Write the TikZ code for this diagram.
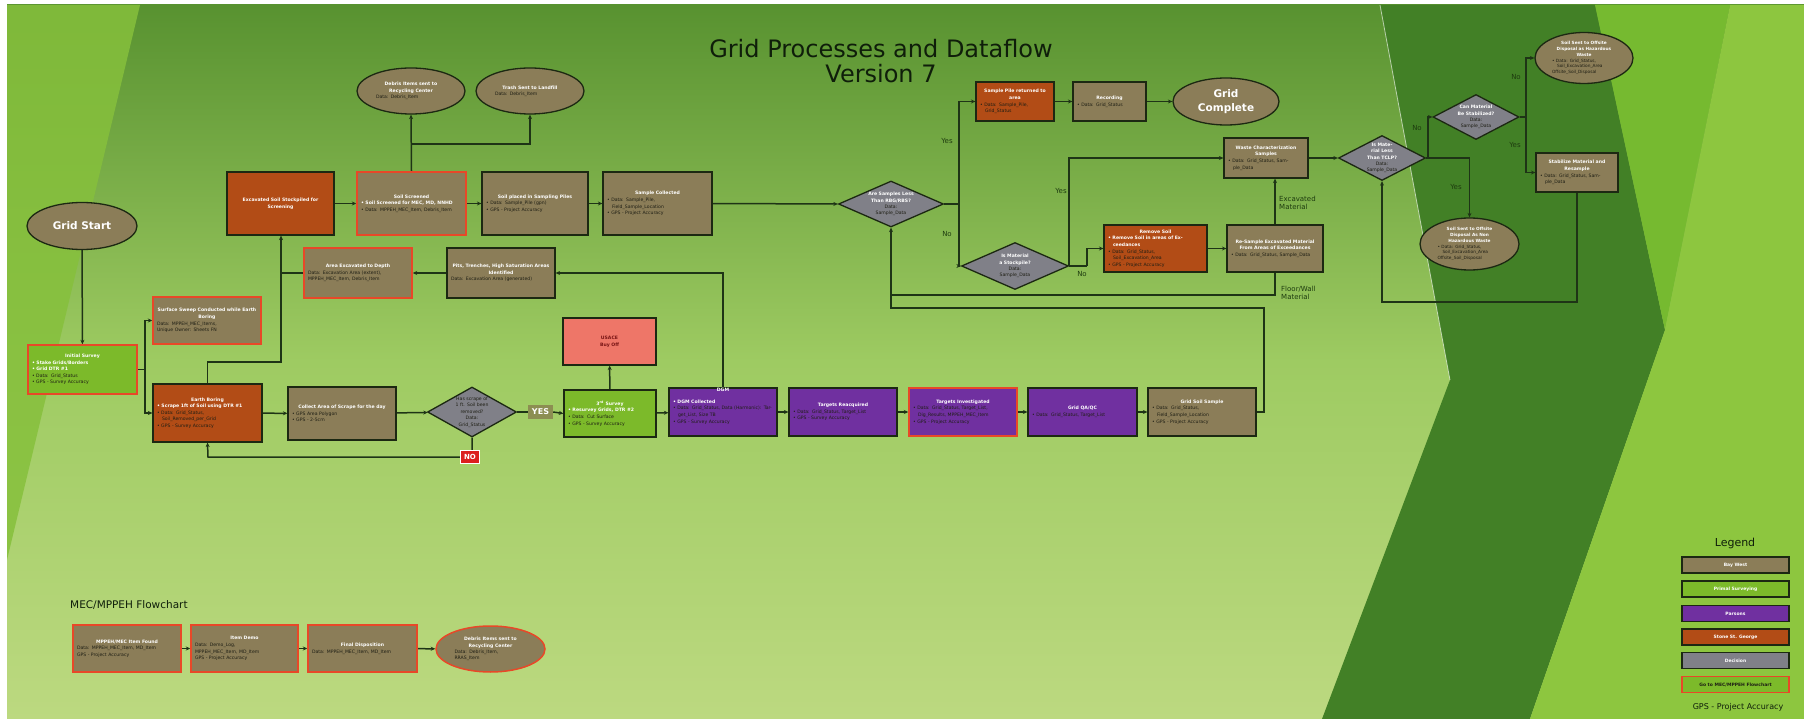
\documentclass[tikz,border=0pt]{standalone}
\usepackage{fontspec}
\setmainfont{DejaVu Sans}
\usetikzlibrary{shapes.geometric,arrows.meta,calc}
\pgfdeclarelayer{bgl}\pgfdeclarelayer{edg}\pgfsetlayers{bgl,edg,main}
\definecolor{olv}{RGB}{139,125,88}
\definecolor{rust}{RGB}{178,76,22}
\definecolor{grn}{RGB}{124,186,42}
\definecolor{purp}{RGB}{112,48,160}
\definecolor{gry}{RGB}{128,128,136}
\definecolor{salm}{RGB}{238,118,104}
\definecolor{redb}{RGB}{232,72,40}
\definecolor{bord}{RGB}{28,40,18}
\definecolor{lnc}{RGB}{30,52,22}
\definecolor{txd}{RGB}{30,30,20}
\definecolor{labc}{RGB}{30,60,15}
\definecolor{titc}{RGB}{15,30,10}
\definecolor{yesc}{RGB}{140,142,82}
\definecolor{noc}{RGB}{220,30,30}
\definecolor{dred}{RGB}{120,20,20}
\definecolor{bgT}{RGB}{88,146,48}
\definecolor{bgM}{RGB}{158,203,98}
\definecolor{bgB}{RGB}{188,217,128}
\definecolor{strip}{RGB}{134,192,60}
\definecolor{rdark}{RGB}{66,128,38}
\definecolor{rbright}{RGB}{118,186,48}
\definecolor{rlime}{RGB}{141,198,63}
\newcommand\xbt[1]{{\centering\bfseries\color{white}#1\par}}
\newcommand\xwb[1]{{\hangindent=5pt\hangafter=1\bfseries\color{white}\textbullet\ #1\par}}
\newcommand\xdb[1]{{\hangindent=5pt\hangafter=1\textbullet\ #1\par}}
\newcommand\xdl[1]{{#1\par}}
\tikzset{
  base/.style={draw=bord, line width=1.2pt, font=\fontsize{4.6}{6.6}\selectfont, text=txd, inner xsep=4pt, inner ysep=1pt, align=left},
  bx/.style n args={3}{base, fill=#1, minimum width=#2pt, minimum height=#3pt, text width=#2pt-8pt},
  rb/.style={draw=redb, line width=1.4pt},
  ell/.style n args={3}{ellipse, draw=bord, line width=1.3pt, fill=#1, minimum width=#2pt, minimum height=#3pt, inner sep=0pt},
  dia/.style n args={2}{diamond, draw=bord, line width=1.3pt, fill=gry, minimum width=#1pt, minimum height=#2pt, inner sep=0pt},
  tx/.style={font=\fontsize{4.6}{6.4}\selectfont, text=txd, align=center, inner sep=0pt},
  lab/.style={font=\fontsize{7}{8.5}\selectfont, text=labc, inner sep=0pt},
  leg/.style={draw=bord, line width=1.2pt, fill=#1, minimum width=107pt, minimum height=16pt, inner sep=0pt, font=\bfseries\fontsize{4.5}{5}\selectfont, text=white},
  ln/.style={draw=lnc, line width=1.5pt},
  ar/.style={ln, -{Stealth[length=4.5pt,width=4pt]}}
}
\begin{document}
\begin{tikzpicture}[x=1pt,y=-1pt]
\useasboundingbox (0,0) rectangle (1804,719);
\begin{pgfonlayer}{bgl}
\fill[white] (0,0) rectangle (1804,719);
\shade[top color=bgT, bottom color=bgB, middle color=bgM] (7,5) rectangle (1804,719);
\fill[strip, opacity=.85] (7,5) -- (140,5) -- (7,560) -- cycle;
\fill[rdark] (1380,5) -- (1595,5) -- (1665,330) -- (1530,719) -- (1322,719) -- (1450,380) -- cycle;
\fill[rbright] (1595,5) -- (1730,5) -- (1665,330) -- cycle;
\fill[rlime] (1730,5) -- (1804,5) -- (1804,719) -- (1530,719) -- (1665,330) -- cycle;
\draw[white, opacity=.6, line width=.8pt] (1380,5) -- (1450,380);
\end{pgfonlayer}

% title
\node[font=\fontsize{24}{25}\selectfont, text=titc, align=center] (title) at (881,61) {Grid Processes and Dataflow\\Version 7};

% left column
\node[ell={olv}{110}{47}] (gstart) at (82,226) {};
\node[font=\bfseries\fontsize{10.5}{13}\selectfont, text=white, inner sep=0pt] (gstartT) at (gstart) {Grid Start};
\node[bx={grn}{109}{49}, rb] (init) at (82.5,369.5) {\xbt{Initial Survey}\xwb{Stake Grids/Borders}\xwb{Grid DTR \#1}\xdb{Data: Grid\_Status}\xdb{GPS - Survey Accuracy}};
\node[bx={olv}{108}{47}, rb] (sweep) at (207,320.5) {\xbt{Surface Sweep Conducted while Earth Boring}\xdl{Data: MPPEH\_MEC\_Items,}\xdl{Unique Owner: Sheets FN}};
\node[bx={rust}{109}{58}] (boring) at (207.5,413) {\xbt{Earth Boring}\xwb{Scrape 1ft of Soil using DTR \#1}\xdb{Data: Grid\_Status, Soil\_Removed\_per\_Grid}\xdb{GPS - Survey Accuracy}};
\node[bx={rust}{107}{63}] (stock) at (280.5,203.5) {\xbt{Excavated Soil Stockpiled for Screening}};
\node[bx={olv}{109}{63}, rb] (screen) at (411.5,203.5) {\xbt{Soil Screened}\xwb{Soil Screened for MEC, MD, NNHD}\xdb{Data: MPPEH\_MEC\_Item, Debris\_Item}};
\node[ell={olv}{108}{46}] (debris) at (411,91) {};
\node[tx, text width=70pt, align=left] (debrisT) at (debris) {\xbt{Debris Items sent to Recycling Center}\xdl{Data: Debris\_Item}};
\node[ell={olv}{108}{46}] (trash) at (530,91) {};
\node[tx, text width=70pt, align=left] (trashT) at (trash) {\xbt{Trash Sent to Landfill}\xdl{Data: Debris\_Item}};
\node[bx={olv}{106}{63}] (placed) at (535,203.5) {\xbt{Soil placed in Sampling Piles}\xdb{Data: Sample\_Pile (gpn)}\xdb{GPS - Project Accuracy}};
\node[bx={olv}{109}{63}] (collected) at (657.5,203.5) {\xbt{Sample Collected}\xdb{Data: Sample\_Pile, Field\_Sample\_Location}\xdb{GPS - Project Accuracy}};
\node[dia={105}{46}] (dsamp) at (891,204) {};
\node[tx, text width=52pt] (dsampT) at (dsamp) {{\bfseries\color{white}Are Samples Less Than RBG/RBS?}\\Data:\\Sample\_Data};
\node[bx={olv}{108}{50}, rb] (area) at (358,273) {\xbt{Area Excavated to Depth}\xdl{Data: Excavation Area (extent),}\xdl{MPPEH\_MEC\_Item, Debris\_Item}};
\node[bx={olv}{108}{50}] (pits) at (501,273) {\xbt{Pits, Trenches, High Saturation Areas Identified}\xdl{Data: Excavation Area (generated)}};
\node[bx={olv}{108}{53}] (collect) at (342,413.5) {\xbt{Collect Area of Scrape for the day}\xdb{GPS Area Polygon}\xdb{GPS - 2-5cm}};
\node[dia={89}{50}] (dscrape) at (472,412) {};
\node[tx, text width=46pt] (dscrapeT) at (dscrape) {Has scrape of\\1 ft. Soil been\\removed?\\Data:\\Grid\_Status};
\node[fill=yesc, text=white, font=\bfseries\fontsize{8}{8}\selectfont, minimum width=25pt, minimum height=14pt, inner sep=0pt] (yes) at (540.5,412) {YES};
\node[fill=noc, draw=white, line width=.6pt, text=white, font=\bfseries\fontsize{7}{7}\selectfont, minimum width=19pt, minimum height=13pt, inner sep=0pt] (no) at (470,457) {NO};
\node[bx={salm}{93}{47}, text=dred, align=center] (usace) at (609.5,341.5) {\bfseries USACE\\Buy Off};
\node[bx={grn}{92}{47}] (survey3) at (610,413.5) {\xbt{3\textsuperscript{rd} Survey}\xwb{Resurvey Grids, DTR \#2}\xdb{Data: Cut Surface}\xdb{GPS - Survey Accuracy}};
\node[bx={purp}{108}{48}] (dgm) at (723,412) {\xwb{DGM Collected}\xdb{Data: Grid\_Status, Data (Harmonic): Target\_List, Size TB}\xdb{GPS - Survey Accuracy}};
\node[font=\bfseries\fontsize{4.6}{5}\selectfont, text=white, inner sep=0pt] (dgmL) at (723,390) {DGM};
\node[bx={purp}{108}{48}] (reacq) at (843,412) {\xbt{Targets Reacquired}\xdb{Data: Grid\_Status, Target\_List}\xdb{GPS - Survey Accuracy}};
\node[bx={purp}{108}{48}, rb] (investig) at (963,412) {\xbt{Targets Investigated}\xdb{Data: Grid\_Status, Target\_List, Dig\_Results, MPPEH\_MEC\_Item}\xdb{GPS - Project Accuracy}};
\node[bx={purp}{109}{48}] (qaqc) at (1082.5,412) {\xbt{Grid QA/QC}\xdb{Data: Grid\_Status, Target\_List}};
\node[bx={olv}{108}{48}] (soilsample) at (1202,412) {\xbt{Grid Soil Sample}\xdb{Data: Grid\_Status, Field\_Sample\_Location}\xdb{GPS - Project Accuracy}};

% right part
\node[bx={rust}{78}{39}] (returned) at (1015,101.5) {\xbt{Sample Pile returned to area}\xdb{Data: Sample\_Pile, Grid\_Status}};
\node[bx={olv}{73}{39}] (recording) at (1109.5,101.5) {\xbt{Recording}\xdb{Data: Grid\_Status}};
\node[ell={olv}{106}{47}] (complete) at (1226,101.5) {};
\node[font=\bfseries\fontsize{10.5}{13.5}\selectfont, text=white, align=center, inner sep=0pt] (completeT) at (complete) {Grid\\Complete};
\node[dia={107}{47}] (dstock) at (1015,266) {};
\node[tx, text width=52pt] (dstockT) at (dstock) {{\bfseries\color{white}Is Material a Stockpile?}\\Data:\\Sample\_Data};
\node[bx={rust}{103}{47}] (remove) at (1155.5,248.5) {\xbt{Remove Soil}\xwb{Remove Soil in areas of Exceedances}\xdb{Data: Grid\_Status, Soil\_Excavation\_Area}\xdb{GPS - Project Accuracy}};
\node[bx={olv}{96}{47}] (resample) at (1275,248.5) {\xbt{Re-Sample Excavated Material From Areas of Exceedances}\xdb{Data: Grid\_Status, Sample\_Data}};
\node[bx={olv}{84}{40}] (waste) at (1266,158) {\xbt{Waste Characterization Samples}\xdb{Data: Grid\_Status, Sample\_Data}};
\node[dia={87}{45}] (dtclp) at (1382,158) {};
\node[tx, text width=40pt] (dtclpT) at (dtclp) {{\bfseries\color{white}Is Material Less Than TCLP?}\\Data:\\Sample\_Data};
\node[dia={86}{45}] (dstab) at (1476,117) {};
\node[tx, text width=42pt] (dstabT) at (dstab) {{\bfseries\color{white}Can Material Be Stabilized?}\\Data:\\Sample\_Data};
\node[ell={olv}{98}{51}] (haz) at (1584,58) {};
\node[tx, text width=64pt, align=left, font=\fontsize{4.3}{5.8}\selectfont] (hazT) at (haz) {\xbt{Soil Sent to Offsite Disposal as Hazardous Waste}\xdb{Data: Grid\_Status, Soil\_Excavation\_Area}\xdl{Offsite\_Soil\_Disposal}};
\node[bx={olv}{82}{39}] (stabilize) at (1577,172.5) {\xbt{Stabilize Material and Resample}\xdb{Data: Grid\_Status, Sample\_Data}};
\node[ell={olv}{99}{52}] (nonhaz) at (1469.5,244) {};
\node[tx, text width=64pt, align=left, font=\fontsize{4.3}{5.8}\selectfont] (nonhazT) at (nonhaz) {\xbt{Soil Sent to Offsite Disposal As Non Hazardous Waste}\xdb{Data: Grid\_Status, Soil\_Excavation\_Area}\xdl{Offsite\_Soil\_Disposal}};

% labels
\node[lab] (l1) at (947,141) {Yes};
\node[lab] (l2) at (947,234) {No};
\node[lab] (l3) at (1061,191) {Yes};
\node[lab] (l4) at (1082,274) {No};
\node[lab, align=left, anchor=west] (l5) at (1279,203) {Excavated\\Material};
\node[lab, align=left, anchor=west] (l6) at (1281,293) {Floor/Wall\\Material};
\node[lab] (l7) at (1417,128) {No};
\node[lab] (l8) at (1456,187) {Yes};
\node[lab] (l9) at (1516,77) {No};
\node[lab] (l10) at (1515,145) {Yes};

% MEC flowchart
\node[font=\fontsize{10.5}{12}\selectfont, text=titc, anchor=west, inner sep=0pt] (mectitle) at (70,605) {MEC/MPPEH Flowchart};
\node[bx={olv}{108}{47}, rb] (mec1) at (127,648.5) {\xbt{MPPEH/MEC Item Found}\xdl{Data: MPPEH\_MEC\_Item, MD\_Item}\xdl{GPS - Project Accuracy}};
\node[bx={olv}{107}{47}, rb] (mec2) at (244.5,648.5) {\xbt{Item Demo}\xdl{Data: Demo\_Log,}\xdl{MPPEH\_MEC\_Item, MD\_Item}\xdl{GPS - Project Accuracy}};
\node[bx={olv}{109}{47}, rb] (mec3) at (362.5,648.5) {\xbt{Final Disposition}\xdl{Data: MPPEH\_MEC\_Item, MD\_Item}};
\node[ell={olv}{109}{46}, draw=redb, line width=1.5pt] (mec4) at (490.5,649) {};
\node[tx, text width=72pt, align=left] (mec4T) at (mec4) {\xbt{Debris Items sent to Recycling Center}\xdl{Data: Debris\_Item,}\xdl{RRAS\_Item}};

% legend
\node[font=\fontsize{11}{12}\selectfont, text=titc, inner sep=0pt] (legT) at (1735,543) {Legend};
\node[leg={olv}] (leg1) at (1735.5,565) {Bay West};
\node[leg={grn}] (leg2) at (1735.5,589) {Primal Surveying};
\node[leg={purp}] (leg3) at (1735.5,613.5) {Parsons};
\node[leg={rust}] (leg4) at (1735.5,637) {Stone St. George};
\node[leg={gry}] (leg5) at (1735.5,660.5) {Decision};
\node[leg={grn}, draw=redb, text=txd] (leg6) at (1735.5,684.5) {Go to MEC/MPPEH Flowchart};
\node[font=\fontsize{8}{9}\selectfont, text=titc, inner sep=0pt] (gpsT) at (1738,707) {GPS - Project Accuracy};

% connectors
\begin{pgfonlayer}{edg}
\coordinate (j1) at (145,369.5);
\coordinate (j2) at (281,362);
\coordinate (j4) at (411,144);
\coordinate (j6) at (1264,308);
\coordinate (j7) at (891,308);
\coordinate (j8) at (891,295);
\coordinate (j9) at (959,204);
\coordinate (j10) at (1087,266);
\coordinate (j11) at (1428,158);
\coordinate (j12) at (1526,117);
\coordinate (j13) at (1577,302);
\coordinate (j14) at (208,457);
\draw[ar] (gstart) -- (init);
\draw[ln] (init.east) -- (j1);
\draw[ar] (j1) |- (sweep.west);
\draw[ar] (j1) |- (boring.west);
\draw[ar] (boring) -- (collect);
\draw[ar] (boring.north) |- (j2) -- (j2 |- stock.south);
\draw[ln] (area.west) -- (area.west -| j2);
\draw[ar] (pits) -- (area);
\draw[ar] (dgm.north) |- (pits.east);
\draw[ar] (stock) -- (screen);
\draw[ar] (screen.north) -- (debris.south);
\draw[ar] (j4) -| (trash.south);
\draw[ar] (screen) -- (placed);
\draw[ar] (placed) -- (collected);
\draw[ar] (collected.east) -- (dsamp.west);
\draw[ar] (collect) -- (dscrape);
\draw[ln] (dscrape.east) -- (yes.west);
\draw[ar] (yes.east) -- (survey3.west);
\draw[ar] (survey3) -- (usace);
\draw[ar] (dscrape.south) |- (j14) -- (boring.south);
\draw[ar] (survey3) -- (dgm);
\draw[ar] (dgm) -- (reacq);
\draw[ar] (reacq) -- (investig);
\draw[ar] (investig) -- (qaqc);
\draw[ar] (qaqc) -- (soilsample);
\draw[ar] (soilsample.east) -| (j6) -- (j7) -- (dsamp.south);
\draw[ln] (resample.south) |- (j8);
\draw[ln] (dsamp.east) -- (j9);
\draw[ar] (j9) |- (returned.west);
\draw[ar] (j9) |- (dstock.west);
\draw[ar] (returned) -- (recording);
\draw[ar] (recording) -- (complete);
\draw[ar] (dstock.east) |- (waste.west);
\draw[ln] (dstock.east) -- (j10);
\draw[ar] (j10) |- (remove.west);
\draw[ar] (remove) -- (resample);
\draw[ar] (resample.north) -- (resample.north |- waste.south);
\draw[ar] (waste) -- (dtclp);
\draw[ln] (dtclp.east) -- (j11);
\draw[ar] (j11) |- (dstab.west);
\draw[ar] (dtclp.east) -| (nonhaz.north);
\draw[ln] (dstab.east) -- (j12);
\draw[ar] (j12) |- (haz.west);
\draw[ar] (j12) |- (stabilize.west);
\draw[ar] (stabilize.south) -- (j13) -| (dtclp.south);
\draw[ar] (mec1) -- (mec2);
\draw[ar] (mec2) -- (mec3);
\draw[ar] (mec3) -- (mec4);
\end{pgfonlayer}
\end{tikzpicture}
\end{document}
